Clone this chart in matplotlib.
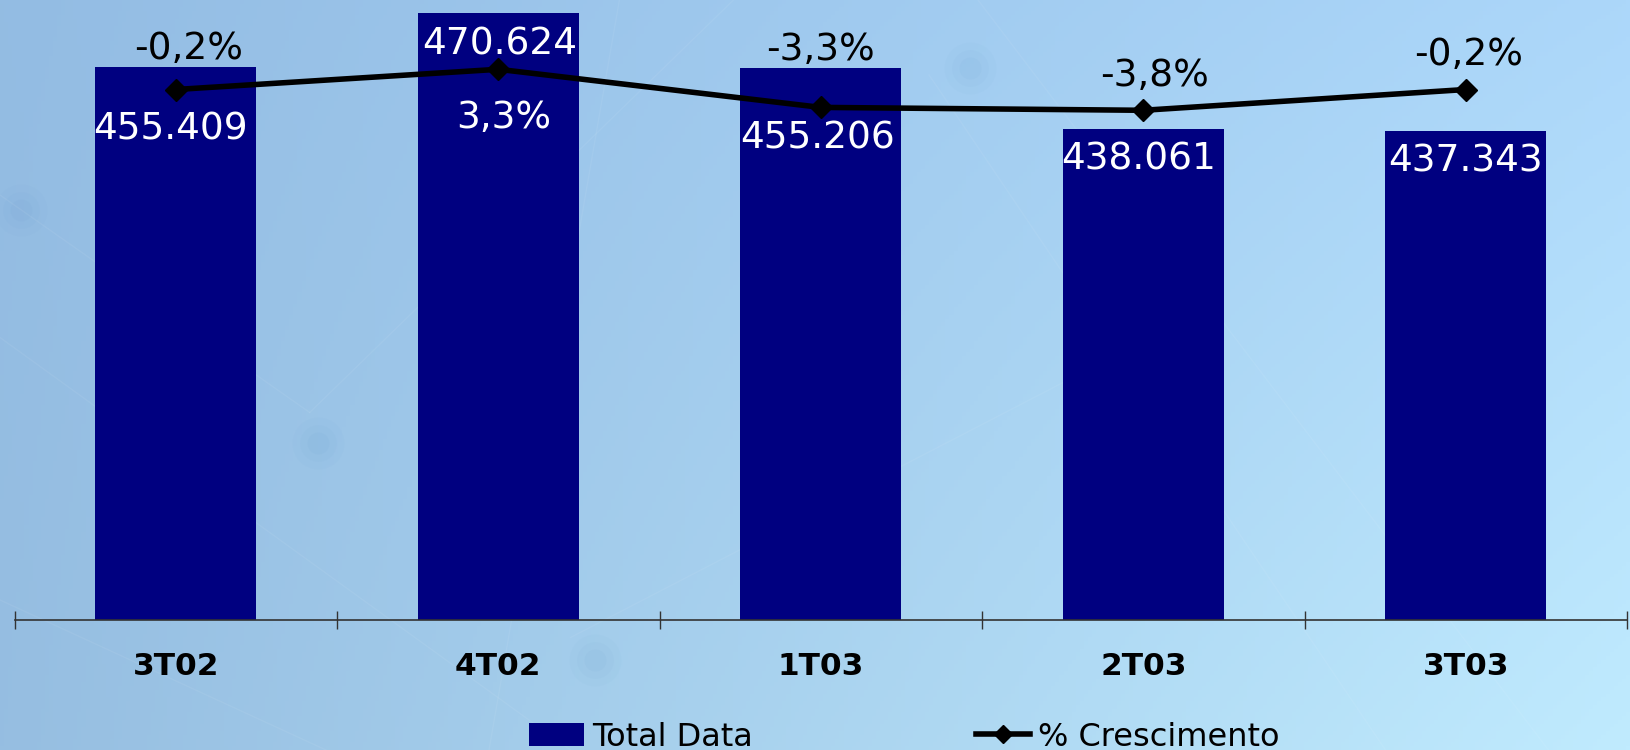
import numpy as np
import matplotlib
matplotlib.use("Agg")
import matplotlib.pyplot as plt
from matplotlib.lines import Line2D
from matplotlib.patches import Patch

# data
quarters = ["3T02", "4T02", "1T03", "2T03", "3T03"]
total_data = [455409, 470624, 455206, 438061, 437343]
growth = [-0.2, 3.3, -3.3, -3.8, -0.2]

# label nudges (points) so texts avoid the line, like the original
bar_lbl_dy = [-45, -23, -51, -22, -22]
bar_lbl_dx = [-4, 1, -2, -3, 0]
pct_lbl_dy = [29, -35, 41, 25, 25]
pct_lbl_dx = [9, 4, 0, 8, 2]

W, H, DPI = 1630, 750, 100
fig = plt.figure(figsize=(W / DPI, H / DPI), dpi=DPI)

# background gradient
bg = fig.add_axes([0, 0, 1, 1], zorder=-10)
tl = np.array([147, 188, 227]) / 255
bl = np.array([150, 190, 225]) / 255
tr = np.array([172, 215, 250]) / 255
br = np.array([192, 235, 254]) / 255
u = np.linspace(0, 1, 400)[None, :, None]
v = np.linspace(0, 1, 200)[:, None, None]
img = (1 - v) * ((1 - u) * tl + u * tr) + v * ((1 - u) * bl + u * br)
bg.imshow(img, extent=[0, 1, 0, 1], aspect="auto", origin="upper")
# faint network pattern
for (x0, y0, x1, y1) in [(0.0, 0.55, 0.35, 0.0), (0.19, 0.45, 0.45, 1.0), (0.3, 0.0, 0.38, 1.0),
                         (0.6, 1.0, 0.95, 0.0), (0.0, 0.74, 0.19, 0.45), (0.35, 0.15, 0.75, 0.6),
                         (0.57, 0.9, 0.85, 0.0), (0.0, 0.2, 0.2, 0.0)]:
    bg.plot([x0, x1], [y0, y1], color="white", alpha=0.06, lw=1.0)
for (x, y) in [(0.013, 0.72), (0.195, 0.41), (0.365, 0.12), (0.595, 0.91)]:
    for s, a in [(1400, 0.03), (700, 0.04), (250, 0.05)]:
        bg.scatter([x], [y], s=s, color="#5a8fc8", alpha=a, lw=0)
bg.set_xlim(0, 1)
bg.set_ylim(0, 1)
bg.axis("off")

left = 14.6 / W
right = 1627 / W
base = 619.6 / H
ax = fig.add_axes([left, 1 - base, right - left, base])
ax.patch.set_alpha(0)
x = np.arange(len(quarters))
bars = ax.bar(x, total_data, width=0.5, color="#000080", linewidth=0, zorder=2)
ax.set_xlim(-0.5, len(quarters) - 0.5)
ax.set_ylim(300000, 474250)
for s in ["top", "left", "right"]:
    ax.spines[s].set_visible(False)
ax.spines["bottom"].set_color("#333333")
ax.spines["bottom"].set_linewidth(1.2)
ax.set_yticks([])
ax.set_xticks(np.arange(-0.5, len(quarters)), labels=[])
ax.tick_params(axis="x", which="major", direction="inout", length=13, width=1, color="#333333")
ax.set_xticks(x, labels=quarters, minor=True)
ax.tick_params(axis="x", which="minor", length=0, pad=23, labelsize=22.5)
for t in ax.get_xticklabels(minor=True):
    t.set_fontweight("bold")

for i, b in enumerate(bars):
    ax.annotate(f"{total_data[i]:,}".replace(",", "."),
                (b.get_x() + b.get_width() / 2, b.get_height()),
                xytext=(bar_lbl_dx[i], bar_lbl_dy[i]), textcoords="offset points",
                ha="center", va="center", color="white", fontsize=27, zorder=5)

ax2 = ax.twinx()
ax2.set_ylim(-92, 15.3)
ax2.plot(x, growth, color="black", lw=4, marker="D", markersize=11, zorder=4)
ax2.axis("off")
for i, g in enumerate(growth):
    ax2.annotate(f"{g:.1f}%".replace(".", ","), (x[i], g),
                 xytext=(pct_lbl_dx[i], pct_lbl_dy[i]), textcoords="offset points",
                 ha="center", va="center", color="black" if pct_lbl_dy[i] > 0 else "white",
                 fontsize=27)

handles = [Patch(facecolor="#000080", edgecolor="none"),
           Line2D([], [], color="black", lw=4, marker="D", markersize=9)]
fig.legend(handles, ["Total Data", "% Crescimento"], loc="center",
           bbox_to_anchor=(0.555, 1 - 737 / H), ncol=2, frameon=False,
           fontsize=23, handlelength=1.7, handletextpad=0.25, columnspacing=7,
           borderpad=0)

fig.savefig("out.png", dpi=DPI)
